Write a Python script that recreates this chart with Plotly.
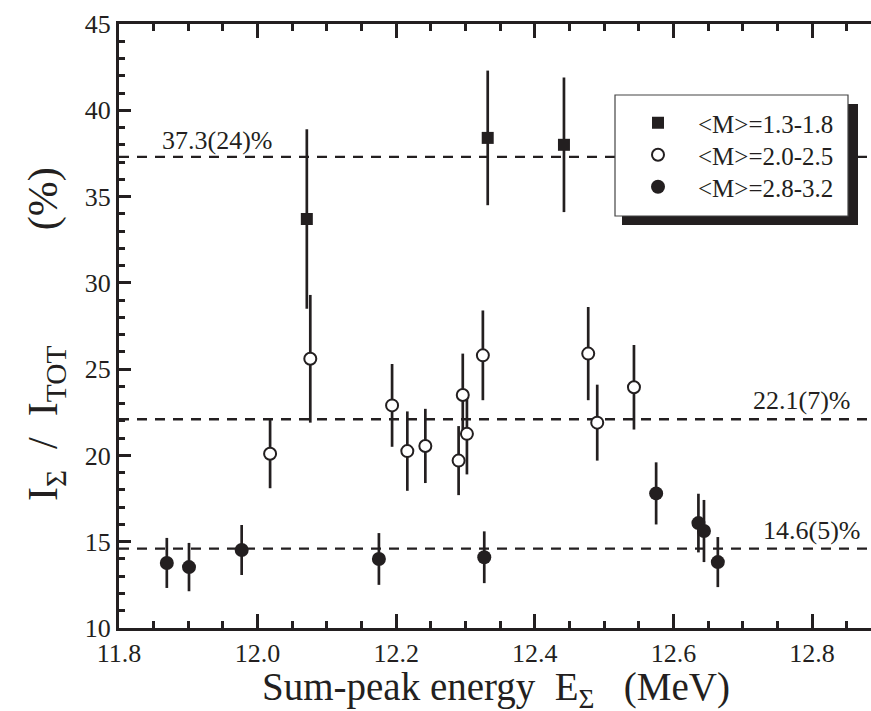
import plotly.graph_objects as go

INK = "#231f20"
FONT = "Liberation Serif, Times New Roman, Tinos, DejaVu Serif, serif"

# <M>=1.3-1.8 (filled squares)
sq_x = [12.071, 12.332, 12.442]
sq_y = [33.7, 38.4, 38.0]
sq_err = [5.2, 3.9, 3.9]

# <M>=2.0-2.5 (open circles)
oc_x = [12.018, 12.076, 12.194, 12.216, 12.242, 12.290, 12.296, 12.302, 12.325, 12.477, 12.490, 12.543]
oc_y = [20.1, 25.6, 22.9, 20.25, 20.55, 19.7, 23.5, 21.25, 25.8, 25.9, 21.9, 23.95]
oc_err = [2.0, 3.7, 2.4, 2.3, 2.15, 2.0, 2.4, 2.35, 2.6, 2.7, 2.2, 2.45]

# <M>=2.8-3.2 (filled circles)
fc_x = [11.869, 11.901, 11.977, 12.175, 12.327, 12.575, 12.636, 12.644, 12.664]
fc_y = [13.77, 13.53, 14.52, 14.0, 14.1, 17.8, 16.08, 15.62, 13.82]
fc_err = [1.45, 1.4, 1.45, 1.5, 1.5, 1.8, 1.7, 1.8, 1.45]

# weighted averages (dashed lines) and their labels
avg_vals = [37.3, 22.1, 14.6]
avg_labels = ["37.3(24)%", "22.1(7)%", "14.6(5)%"]

series_names = ["&lt;M&gt;=1.3-1.8", "&lt;M&gt;=2.0-2.5", "&lt;M&gt;=2.8-3.2"]

x_range = [11.8, 12.885]
y_range = [10, 45]

fig = go.Figure()

def err(vals):
    return dict(type="data", array=vals, visible=True, color=INK, thickness=2.7, width=0)

fig.add_trace(go.Scatter(
    x=sq_x, y=sq_y, mode="markers", name=series_names[0], error_y=err(sq_err), legend="legend",
    marker=dict(symbol="square", size=12, color=INK, line=dict(width=0))))
fig.add_trace(go.Scatter(
    x=oc_x, y=oc_y, mode="markers", name=series_names[1], error_y=err(oc_err), legend="legend2",
    marker=dict(symbol="circle", size=12, color="white", line=dict(width=2, color=INK))))
fig.add_trace(go.Scatter(
    x=fc_x, y=fc_y, mode="markers", name=series_names[2], error_y=err(fc_err), legend="legend3",
    marker=dict(symbol="circle", size=14, color=INK, line=dict(width=0))))

# dashed average lines
for v in avg_vals:
    fig.add_shape(type="line", xref="paper", x0=0, x1=1, yref="y", y0=v, y1=v,
                  line=dict(color=INK, width=2.4, dash="10px,8px"), layer="below")

# page geometry (body margin removed in the page, so figure fills the window)
W, H, L, T, B = 871, 711, 119, 24, 83
pw, ph = W - L, H - T - B
def px(x):
    return (x - L) / pw
def py(y):
    return (H - B - y) / ph

# legend box with drop shadow
fig.add_shape(type="rect", xref="paper", yref="paper", x0=px(622), x1=px(858), y0=py(225), y1=py(104),
              fillcolor=INK, line=dict(width=0), layer="above")
fig.add_shape(type="rect", xref="paper", yref="paper", x0=px(615), x1=px(848), y0=py(216), y1=py(95),
              fillcolor="white", line=dict(width=1.2, color="#444"), layer="above")

# labels of average lines
fig.add_annotation(x=11.859, y=avg_vals[0], xref="x", yref="y", text=avg_labels[0],
                   showarrow=False, xanchor="left", yanchor="bottom", yshift=0,
                   font=dict(family=FONT, size=26, color=INK))
fig.add_annotation(x=px(852), y=avg_vals[1], xref="paper", yref="y", text=avg_labels[1],
                   showarrow=False, xanchor="right", yanchor="bottom", yshift=2,
                   font=dict(family=FONT, size=26, color=INK))
fig.add_annotation(x=px(862), y=avg_vals[2], xref="paper", yref="y", text=avg_labels[2],
                   showarrow=False, xanchor="right", yanchor="bottom", yshift=2,
                   font=dict(family=FONT, size=26, color=INK))

# axis titles
NB = "\u00a0"
fig.add_annotation(x=px(496), y=py(689), xref="paper", yref="paper",
                   text="Sum-peak energy" + NB * 2 + "E<sub>Σ</sub>" + NB * 3 + "(MeV)",
                   showarrow=False, xanchor="center", yanchor="middle",
                   font=dict(family=FONT, size=39, color=INK))
fig.add_annotation(x=px(46), y=py(334), xref="paper", yref="paper", textangle=-90,
                   text="I<sub>Σ</sub>" + NB * 2 + "/" + NB * 2 + "I<sub>TOT</sub>" + NB * 11 + "(%)",
                   showarrow=False, xanchor="center", yanchor="middle",
                   font=dict(family=FONT, size=42, color=INK))

leg_common = dict(xanchor="left", yanchor="middle", bgcolor="rgba(0,0,0,0)", borderwidth=0,
                  itemwidth=70, font=dict(family=FONT, size=25, color=INK))
fig.update_layout(
    width=W, height=H,
    margin=dict(l=L, r=0, t=T, b=B, pad=0),
    paper_bgcolor="white", plot_bgcolor="white",
    showlegend=True,
    legend=dict(x=px(618), y=py(123), **leg_common),
    legend2=dict(x=px(618), y=py(155), **leg_common),
    legend3=dict(x=px(618), y=py(187), **leg_common),
    font=dict(family=FONT, color=INK),
)
fig.update_xaxes(range=x_range, tick0=11.8, dtick=0.2, tickformat=".1f",
                 ticks="inside", ticklen=14, tickwidth=2.5, tickcolor=INK,
                 showline=True, linewidth=3, linecolor=INK, mirror="ticks",
                 showgrid=False, zeroline=False,
                 tickfont=dict(family=FONT, size=26, color=INK),
                 minor=dict(dtick=0.05, ticks="inside", ticklen=7, tickwidth=2.5, tickcolor=INK))
fig.update_yaxes(range=y_range, tick0=10, dtick=5,
                 ticks="inside", ticklen=12, tickwidth=2.5, tickcolor=INK,
                 showline=True, linewidth=3, linecolor=INK, mirror=False,
                 showgrid=False, zeroline=False,
                 tickfont=dict(family=FONT, size=26, color=INK),
                 minor=dict(dtick=1, ticks="inside", ticklen=6, tickwidth=2.5, tickcolor=INK))

fig.write_html("out.html", config={"displayModeBar": False},
               post_script="document.body.style.margin='0px';document.body.style.overflow='hidden';")
